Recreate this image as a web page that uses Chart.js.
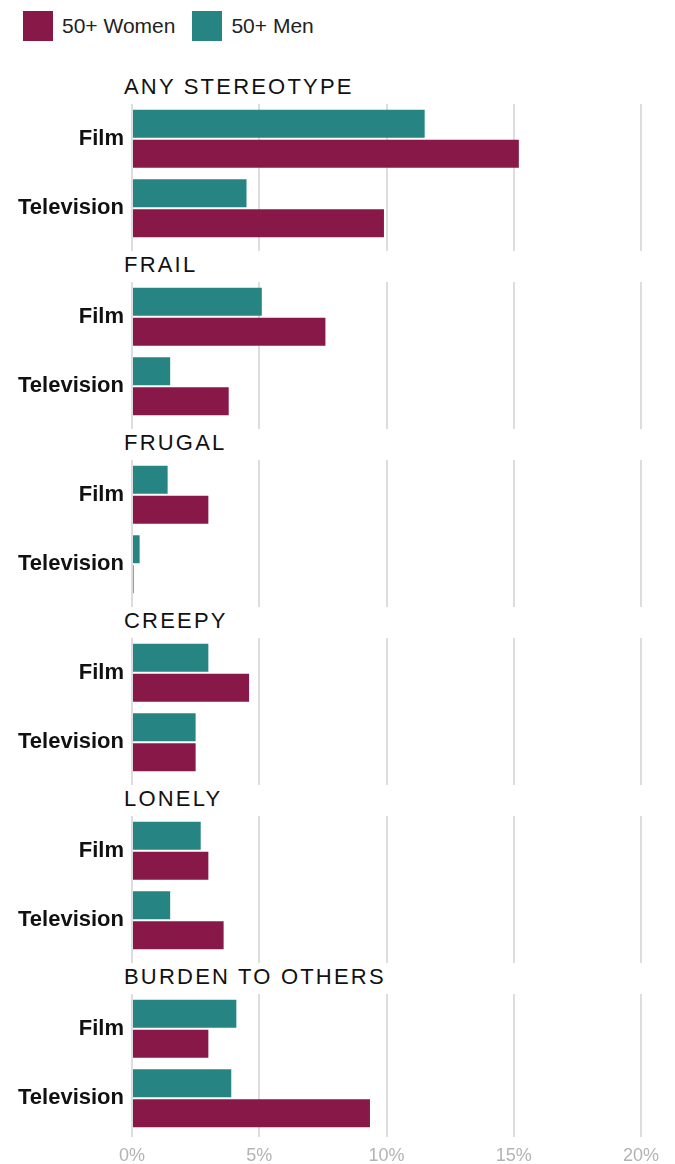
<!DOCTYPE html>
<html>
<head>
<meta charset="utf-8">
<script src="https://cdn.jsdelivr.net/npm/chart.js@4"></script>
<style>
  html, body { overflow: hidden; }
  body { margin: 0; background: #fff; font-family: "Liberation Sans", Arial, sans-serif; color: #111; }
  #legend { height: 63px; padding: 11px 0 0 23px; display: flex; }
  .key { display: inline-flex; align-items: center; height: 30px; font-size: 21px; color: #222; margin-right: 17px; }
  .key i { display: inline-block; width: 30px; height: 30px; margin-right: 9px; }
  .group-title { height: 26px; line-height: 26px; font-size: 22px; letter-spacing: 2.2px; padding-left: 124px; color: #111; }
  .group-chart { position: relative; width: 675px; }
</style>
</head>
<body>
<div id="legend"></div>
<div id="groups"></div>
<script>
// stereotype groups, top to bottom
const groupNames = ['ANY STEREOTYPE', 'FRAIL', 'FRUGAL', 'CREEPY', 'LONELY', 'BURDEN TO OTHERS'];
const mediaLabels = ['Film', 'Television'];

// share of 50+ characters (%), one value per group
const menFilm = [11.5, 5.1, 1.4, 3.0, 2.7, 4.1];
const menTelevision = [4.5, 1.5, 0.3, 2.5, 1.5, 3.9];
const womenFilm = [15.2, 7.6, 3.0, 4.6, 3.0, 3.0];
const womenTelevision = [9.9, 3.8, 0.06, 2.5, 3.6, 9.35];

const xMin = 0;
const xMax = 20;
const xStep = 5;

const WOMEN_COLOR = '#871847';
const MEN_COLOR = '#268582';
const GRID_COLOR = '#dddddd';

Chart.defaults.font.family = '"Liberation Sans", Arial, sans-serif';
Chart.defaults.animation = false;

// legend (women listed first, as in the original)
document.getElementById('legend').innerHTML = [
  ['50+ Women', WOMEN_COLOR],
  ['50+ Men', MEN_COLOR],
].map(([label, color]) => `<span class="key"><i style="background:${color}"></i>${label}</span>`).join('');

// gridlines run a little past the plot area, down to the next heading
const gridTail = {
  id: 'gridTail',
  beforeDatasetsDraw(chart, args, opts) {
    if (!opts.length) return;
    const { ctx, chartArea, scales: { x } } = chart;
    ctx.save();
    ctx.strokeStyle = GRID_COLOR;
    ctx.lineWidth = 2;
    x.ticks.forEach((t) => {
      const px = Math.round(x.getPixelForValue(t.value));
      ctx.beginPath();
      ctx.moveTo(px, chartArea.bottom - 1);
      ctx.lineTo(px, chartArea.bottom + opts.length);
      ctx.stroke();
    });
    ctx.restore();
  },
};

const wrap = document.getElementById('groups');

groupNames.forEach((name, i) => {
  const isLast = i === groupNames.length - 1;

  const title = document.createElement('div');
  title.className = 'group-title';
  title.textContent = name;
  wrap.appendChild(title);

  const box = document.createElement('div');
  box.className = 'group-chart';
  box.style.height = isLast ? '174px' : '152px';
  const canvas = document.createElement('canvas');
  box.appendChild(canvas);
  wrap.appendChild(box);

  new Chart(canvas.getContext('2d'), {
    type: 'bar',
    data: {
      labels: mediaLabels,
      datasets: [
        { label: '50+ Men', data: [menFilm[i], menTelevision[i]], backgroundColor: MEN_COLOR },
        { label: '50+ Women', data: [womenFilm[i], womenTelevision[i]], backgroundColor: WOMEN_COLOR },
      ],
    },
    options: {
      indexAxis: 'y',
      responsive: true,
      maintainAspectRatio: false,
      categoryPercentage: 0.863,
      barPercentage: 0.933,
      layout: { padding: { top: 4, right: 34, bottom: isLast ? 0 : 9, left: 0 } },
      plugins: {
        legend: { display: false },
        tooltip: { enabled: false },
        gridTail: { length: isLast ? 4 : 8 },
      },
      scales: {
        x: {
          min: xMin,
          max: xMax,
          border: { display: false },
          grid: { color: GRID_COLOR, lineWidth: 2, drawTicks: false },
          ticks: {
            display: isLast,
            stepSize: xStep,
            padding: 12,
            color: '#b3b3b3',
            font: { size: 18 },
            callback: (v) => `${v}%`,
          },
          afterFit: (scale) => {
            scale.height = isLast ? 31 : 0;
            scale.paddingLeft = 0;
          },
        },
        y: {
          border: { display: false },
          grid: { display: false, drawTicks: false },
          ticks: { color: '#111', padding: 8, font: { size: 22, weight: 'bold' } },
          afterFit: (scale) => {
            scale.width = 132;
            scale.paddingTop = 0;
            scale.paddingBottom = 0;
          },
        },
      },
    },
    plugins: [gridTail],
  });
});
</script>
</body>
</html>
